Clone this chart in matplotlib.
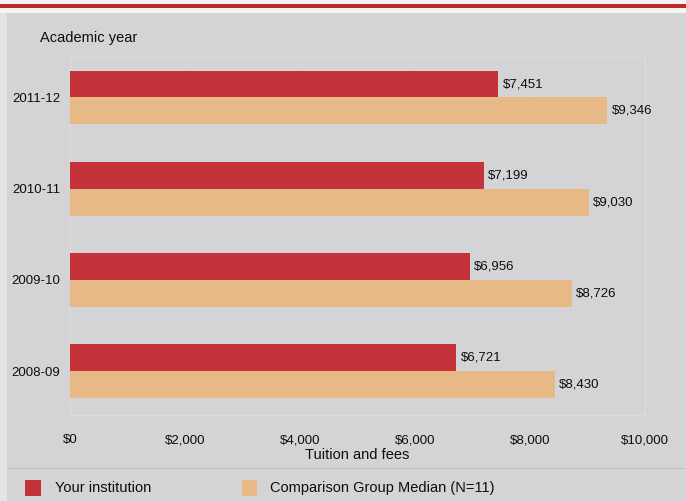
import matplotlib
matplotlib.use("Agg")
import matplotlib.pyplot as plt
from matplotlib.patches import Rectangle
from matplotlib.lines import Line2D
from matplotlib.ticker import FuncFormatter

# Data
years = ["2008-09", "2009-10", "2010-11", "2011-12"]
your_institution = [6721, 6956, 7199, 7451]
comparison_median = [8430, 8726, 9030, 9346]
x_ticks = [0, 2000, 4000, 6000, 8000, 10000]

RED = "#c5333a"
TAN = "#e7b986"
BG = "#d4d4d6"
TEXT = "#0d0d0d"

W, H = 686, 501
plt.rcParams["font.family"] = ["Liberation Sans", "DejaVu Sans"]

fig = plt.figure(figsize=(W / 100, H / 100), dpi=100)
fig.patch.set_facecolor(BG)


def fx(px):
    return px / W


def fy(py):
    return 1 - py / H


# Page header strip with red rule, light margin at the left
fig.add_artist(Rectangle((0, fy(13)), 1, 13 / H, transform=fig.transFigure,
                         facecolor="#f4f4f4", edgecolor="none", zorder=0))
fig.add_artist(Rectangle((0, fy(7.5)), 1, 3.5 / H, transform=fig.transFigure,
                         facecolor="#c0282c", edgecolor="none", zorder=1))
fig.add_artist(Rectangle((0, 0), fx(7), fy(13), transform=fig.transFigure,
                         facecolor="#e4e4e5", edgecolor="none", zorder=0))

# Plot area
left, right, top, bottom = 70, 645, 57, 415
ax = fig.add_axes([fx(left), fy(bottom), fx(right - left), (bottom - top) / H])
ax.set_facecolor(BG)

pos = list(range(len(years)))
h = 0.295
ax.barh([p + h / 2 for p in pos], your_institution, height=h, color=RED,
        edgecolor="none", zorder=3)
ax.barh([p - h / 2 for p in pos], comparison_median, height=h, color=TAN,
        edgecolor="none", zorder=3)

for p, v in zip(pos, your_institution):
    ax.annotate(f"${v:,}", (v, p + h / 2), xytext=(3, 0), textcoords="offset points",
                ha="left", va="center", fontsize=9.5, color=TEXT)
for p, v in zip(pos, comparison_median):
    ax.annotate(f"${v:,}", (v, p - h / 2), xytext=(3, 0), textcoords="offset points",
                ha="left", va="center", fontsize=9.5, color=TEXT)

ax.set_xlim(0, 10000)
ax.set_ylim(-0.482, 3.444)
ax.set_xticks(x_ticks)
ax.xaxis.set_major_formatter(FuncFormatter(lambda v, _: f"${int(v):,}"))
ax.set_yticks(pos)
ax.set_yticklabels(years)
ax.tick_params(axis="x", length=0, pad=14, labelsize=9.5, labelcolor=TEXT)
ax.tick_params(axis="y", length=0, pad=7, labelsize=9.5, labelcolor=TEXT)
ax.grid(axis="x", color="#d9d9db", linewidth=0.6, zorder=1)
for s in ax.spines.values():
    s.set_color("#dcdcde")
    s.set_linewidth(0.9)

# Titles
fig.text(fx(40), fy(38), "Academic year", ha="left", va="center", fontsize=10.5, color=TEXT)
fig.text(fx(357), fy(455), "Tuition and fees", ha="center", va="center", fontsize=10.5, color=TEXT)

# Separator above the legend
fig.add_artist(Line2D([fx(7), 1], [fy(468), fy(468)], transform=fig.transFigure,
                      color="#c2c2c5", linewidth=0.8))

# Legend
fig.add_artist(Rectangle((fx(25), fy(496)), fx(16), 16 / H, transform=fig.transFigure,
                         facecolor=RED, edgecolor="none"))
fig.text(fx(55), fy(488), "Your institution", ha="left", va="center", fontsize=10.5, color=TEXT)
fig.add_artist(Rectangle((fx(242), fy(496)), fx(15), 16 / H, transform=fig.transFigure,
                         facecolor=TAN, edgecolor="none"))
fig.text(fx(270), fy(488), "Comparison Group Median (N=11)", ha="left", va="center",
         fontsize=10.5, color=TEXT)

fig.savefig("out.png", dpi=100, facecolor=fig.get_facecolor())
